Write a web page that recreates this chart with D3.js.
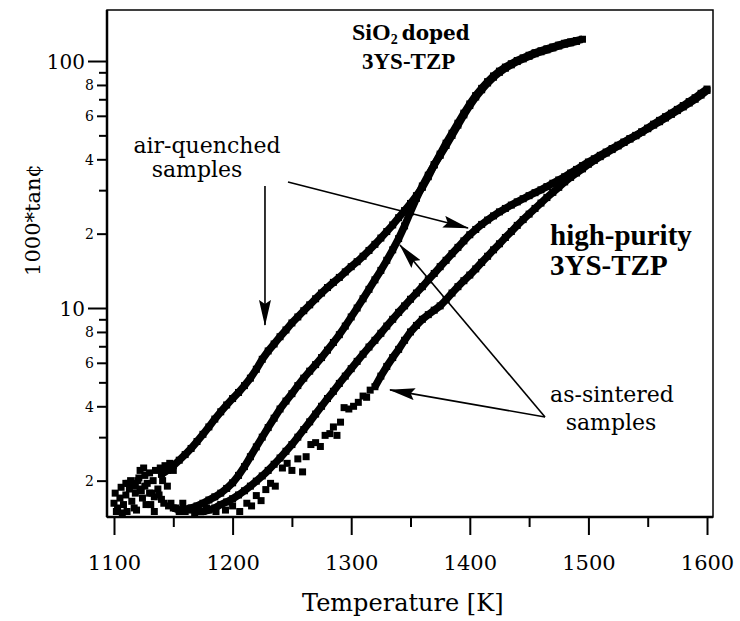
<!DOCTYPE html>
<html><head><meta charset="utf-8">
<script src="https://cdn.jsdelivr.net/npm/d3@7"></script>
<style>body{margin:0;background:#fff}</style>
</head><body>
<svg id="c" width="740" height="621"></svg>
<script>
// ---------- data (temperature K, 1000*tan) ----------
const xMajorTicks = [1100, 1200, 1300, 1400, 1500, 1600];
const xMinorTicks = [1150, 1250, 1350, 1450, 1550];
const yDecadeTicks = [10, 100];
const yLabeledTicks = [2, 4, 6, 8, 20, 40, 60, 80];
const yMinorTicks = [3, 5, 7, 9, 30, 50, 70, 90];

// SiO2 doped, air-quenched
const sio2QuenchedScatter = [[1100,1.62],[1101,1.78],[1102,1.5],[1103,1.55],[1105,1.7],[1106,1.88],[1107,1.48],[1108,1.6],[1110,1.75],[1111,1.5],[1112,1.95],[1113,1.85],[1115,1.65],[1116,1.95],[1117,1.55],[1118,1.78],[1119,1.52],[1120,2.0],[1121,2.05],[1122,2.2],[1123,1.82],[1124,1.7],[1125,2.25],[1126,2.1],[1127,1.6],[1128,1.95],[1130,2.15],[1131,1.6],[1132,1.78],[1133,2.0],[1134,1.5],[1135,2.2],[1137,1.85],[1139,2.25],[1140,1.68],[1141,2.0],[1143,2.3],[1145,1.9],[1147,2.35],[1148,1.62],[1150,2.2],[1152,1.55],[1155,1.5],[1158,1.62],[1163,1.52]];
const sio2Quenched = [[1140,2.12],[1145,2.2],[1150,2.3],[1155,2.42],[1160,2.55],[1165,2.7],[1170,2.88],[1175,3.08],[1180,3.3],[1185,3.55],[1190,3.8],[1195,4.05],[1200,4.3],[1205,4.55],[1210,4.85],[1215,5.2],[1220,5.65],[1225,6.2],[1230,6.7],[1235,7.15],[1240,7.65],[1245,8.15],[1250,8.7],[1255,9.2],[1260,9.75],[1265,10.3],[1270,10.9],[1275,11.5],[1280,12.1],[1285,12.7],[1290,13.3],[1295,14.0],[1300,14.7],[1305,15.4],[1310,16.2],[1315,17.1],[1320,18.1],[1325,19.2],[1330,20.4],[1335,21.7],[1340,23.2],[1345,24.8],[1350,26.5],[1355,28.5],[1360,30.8],[1365,34],[1370,38],[1375,42],[1380,46.5],[1385,51],[1390,56],[1395,61.5],[1400,67],[1405,72.5],[1410,77.5],[1415,82.5],[1420,87],[1425,91],[1430,94.5],[1435,97.5],[1440,100.5],[1445,103],[1450,105.5],[1455,108],[1460,110],[1465,112],[1470,114],[1475,116],[1480,118],[1485,119.5],[1490,121],[1495,122.5]];

// SiO2 doped, as-sintered
const sio2SinteredScatter = [[1110,1.95],[1114,2.0],[1118,1.9],[1122,1.85],[1126,1.9],[1130,1.78],[1134,1.72],[1138,1.75],[1142,1.62],[1146,1.58]];
const sio2Sintered = [[1150,1.55],[1155,1.52],[1160,1.53],[1165,1.55],[1170,1.58],[1175,1.62],[1180,1.67],[1185,1.72],[1190,1.78],[1195,1.86],[1200,1.96],[1205,2.1],[1210,2.28],[1215,2.5],[1220,2.74],[1225,3.0],[1230,3.28],[1235,3.58],[1240,3.9],[1245,4.2],[1250,4.5],[1255,4.85],[1260,5.2],[1265,5.55],[1270,5.9],[1275,6.3],[1280,6.75],[1285,7.25],[1290,7.8],[1295,8.45],[1300,9.2],[1305,10.0],[1310,10.9],[1315,11.9],[1320,13.0],[1325,14.2],[1330,15.6],[1335,17.2],[1340,19.1],[1345,21.5],[1350,24.5],[1355,27.8],[1360,31.2],[1365,34.5],[1370,38],[1375,41.5],[1380,45.5],[1385,50],[1390,55],[1395,60.5],[1400,66],[1405,71.5],[1410,76.5],[1415,81.5],[1420,86],[1425,90],[1430,93.5],[1435,96.5],[1440,99.5],[1445,102],[1450,104.5],[1455,107],[1460,109],[1465,111],[1470,113],[1475,115],[1480,117],[1485,118.5],[1490,120]];

// high-purity, air-quenched
const hpQuenched = [[1170,1.5],[1175,1.5],[1180,1.52],[1185,1.55],[1190,1.6],[1195,1.64],[1200,1.69],[1205,1.75],[1210,1.82],[1215,1.9],[1220,1.99],[1225,2.09],[1230,2.2],[1235,2.33],[1240,2.47],[1245,2.63],[1250,2.8],[1255,3.0],[1260,3.22],[1265,3.46],[1270,3.72],[1275,4.0],[1280,4.3],[1285,4.6],[1290,4.95],[1295,5.3],[1300,5.68],[1305,6.08],[1310,6.5],[1315,6.95],[1320,7.4],[1325,7.9],[1330,8.45],[1335,9.0],[1340,9.6],[1345,10.2],[1350,10.85],[1355,11.5],[1360,12.2],[1365,13.0],[1370,13.8],[1375,14.7],[1380,15.6],[1385,16.6],[1390,17.6],[1395,18.7],[1400,19.8],[1405,20.8],[1410,21.8],[1415,22.7],[1420,23.6],[1425,24.5],[1430,25.3],[1435,26.1],[1440,26.9],[1445,27.7],[1450,28.5],[1455,29.3],[1460,30.1],[1465,31],[1470,32],[1475,33],[1480,34],[1485,35.2],[1490,36.4],[1495,37.7],[1500,39],[1505,40.2],[1510,41.5],[1515,42.8],[1520,44.2],[1525,45.6],[1530,47],[1535,48.5],[1540,50],[1545,51.6],[1550,53.2],[1555,55],[1560,56.8],[1565,58.8],[1570,60.8],[1575,63],[1580,65.2],[1585,67.6],[1590,70],[1595,72.8],[1600,76]];

// high-purity, as-sintered
const hpSinteredScatter = [[1160,1.5],[1168,1.48],[1178,1.55],[1186,1.5],[1194,1.52],[1200,1.58],[1206,1.5],[1212,1.62],[1216,1.58],[1220,1.74],[1224,1.66],[1228,1.84],[1232,1.95],[1236,1.9],[1242,2.25],[1246,2.35],[1250,2.2],[1255,2.45],[1259,2.17],[1262,2.5],[1266,2.8],[1270,2.85],[1274,2.75],[1278,3.05],[1282,3.1],[1285,3.3],[1288,3.05],[1291,3.45],[1294,3.95],[1298,3.9],[1302,4.0],[1306,4.15],[1310,4.4],[1313,4.35],[1316,4.65]];
const hpSintered = [[1320,4.8],[1325,5.3],[1330,5.8],[1335,6.3],[1340,6.8],[1345,7.4],[1350,8.0],[1355,8.5],[1360,9.0],[1365,9.4],[1370,9.8],[1375,10.2],[1380,10.8],[1385,11.5],[1390,12.2],[1395,12.9],[1400,13.6],[1405,14.4],[1410,15.3],[1415,16.2],[1420,17.2],[1425,18.2],[1430,19.3],[1435,20.4],[1440,21.6],[1445,22.8],[1450,24.0],[1455,25.3],[1460,26.6],[1465,28],[1470,29.4],[1475,30.8],[1480,32.4],[1485,33.8],[1490,35.2],[1495,36.6],[1500,38.2],[1505,39.6],[1510,41],[1515,42.4],[1520,43.8],[1525,45.3],[1530,46.8],[1535,48.3],[1540,49.8],[1545,51.6],[1550,53.5],[1555,55.5],[1560,57.5],[1565,59.5],[1570,61.5],[1575,63.7],[1580,66],[1585,68.5],[1590,71],[1595,74],[1600,77]];

// annotation arrows [fromT, fromV, toT, toV]
const arrows = [[1227.3,31.2,1227.3,8.54],[1246.7,32.4,1398.5,21.1],[1463.4,3.62,1332.7,4.66],[1463.4,3.62,1341.1,18.0]];

// ---------- drawing ----------
const svg = d3.select("#c");
const L = 107, R = 713, T = 10, B = 517;
const x = d3.scaleLinear().domain([1094.1, 1605.05]).range([L, R]);
const y = d3.scaleLog().domain([1.425, 160.9]).range([B, T]);
const serif = "'DejaVu Serif', serif";

svg.append("defs").append("marker")
  .attr("id","ah").attr("markerUnits","userSpaceOnUse")
  .attr("markerWidth",26).attr("markerHeight",12)
  .attr("refX",25).attr("refY",6).attr("orient","auto")
  .append("path").attr("d","M0,0 L26,6 L0,12 L4,6 Z").attr("fill","#000");

const plot = svg.append("g");
plot.append("clipPath").attr("id","clip").append("rect")
  .attr("x",L).attr("y",T).attr("width",R-L).attr("height",B-T);
const g = plot.append("g").attr("clip-path","url(#clip)");

const line = d3.line().x(d => x(d[0])).y(d => y(d[1]));
const sq = 7;
function drawLine(data){
  g.append("path").datum(data).attr("d", line)
    .attr("fill","none").attr("stroke","#000").attr("stroke-width",7.5)
    .attr("stroke-linejoin","round");
  drawSquares(data);
}
function drawSquares(data){
  g.append("g").selectAll("rect").data(data).join("rect")
    .attr("x", d => x(d[0]) - sq/2).attr("y", d => y(d[1]) - sq/2)
    .attr("width", sq).attr("height", sq).attr("fill","#000");
}
drawSquares(sio2QuenchedScatter);
drawLine(sio2Quenched);
drawSquares(sio2SinteredScatter);
drawLine(sio2Sintered);
drawLine(hpQuenched);
drawSquares(hpSinteredScatter);
drawLine(hpSintered);

// frame
svg.append("rect").attr("x",L).attr("y",T).attr("width",R-L).attr("height",B-T)
  .attr("fill","none").attr("stroke","#000").attr("stroke-width",1.5);
svg.append("line").attr("x1",L).attr("x2",L).attr("y1",T).attr("y2",B)
  .attr("stroke","#000").attr("stroke-width",2.5);
svg.append("line").attr("x1",L).attr("x2",R).attr("y1",B).attr("y2",B)
  .attr("stroke","#000").attr("stroke-width",2.5);

// x axis
const xa = svg.append("g").attr("transform",`translate(0,${B})`)
  .call(d3.axisBottom(x).tickValues(xMajorTicks).tickSize(18).tickFormat(d3.format("d")));
xa.select(".domain").remove();
xa.selectAll("line").attr("stroke-width",2);
xa.selectAll("text").attr("y",53).attr("dy",0)
  .style("font-family",serif).style("font-size","21px").attr("fill","#000");
const xm = svg.append("g").attr("transform",`translate(0,${B})`)
  .call(d3.axisBottom(x).tickValues(xMinorTicks).tickSize(10).tickFormat(""));
xm.select(".domain").remove();
xm.selectAll("line").attr("stroke-width",2);

// y axis
const yd = svg.append("g").attr("transform",`translate(${L},0)`)
  .call(d3.axisLeft(y).tickValues(yDecadeTicks).tickSize(19).tickPadding(3).tickFormat(d3.format("d")));
yd.select(".domain").remove();
yd.selectAll("line").attr("stroke-width",2);
yd.selectAll("text").attr("dy","0.36em")
  .style("font-family",serif).style("font-size","20px").attr("fill","#000");
const yl = svg.append("g").attr("transform",`translate(${L},0)`)
  .call(d3.axisLeft(y).tickValues(yLabeledTicks).tickSize(10).tickPadding(3)
    .tickFormat(d => String(d).charAt(0)));
yl.select(".domain").remove();
yl.selectAll("line").attr("stroke-width",2);
yl.selectAll("text").attr("dy","0.36em")
  .style("font-family",serif).style("font-size","14px").attr("fill","#000");
const ym = svg.append("g").attr("transform",`translate(${L},0)`)
  .call(d3.axisLeft(y).tickValues(yMinorTicks).tickSize(8).tickFormat(""));
ym.select(".domain").remove();
ym.selectAll("line").attr("stroke-width",2);

// axis titles
svg.append("text").attr("x",302).attr("y",611)
  .style("font-family",serif).style("font-size","24px").text("Temperature [K]");
svg.append("text").attr("transform","translate(40,220) rotate(-90)")
  .attr("text-anchor","middle")
  .style("font-family",serif).style("font-size","21px").text("1000*tan¢");

// arrows
svg.append("g").selectAll("line").data(arrows).join("line")
  .attr("x1", d => x(d[0])).attr("y1", d => y(d[1]))
  .attr("x2", d => x(d[2])).attr("y2", d => y(d[3]))
  .attr("stroke","#000").attr("stroke-width",1.6).attr("marker-end","url(#ah)");

// annotations
function txt(xp, yp, s, size, opts = {}) {
  return svg.append("text").attr("x",xp).attr("y",yp)
    .attr("text-anchor", opts.anchor || "start")
    .style("font-family", opts.family || serif)
    .style("font-size", size + "px")
    .style("font-weight", opts.bold ? "bold" : "normal")
    .text(s);
}
txt(207,153,"air-quenched",22,{anchor:"middle"});
txt(197,177,"samples",22,{anchor:"middle"});
txt(612,402,"as-sintered",22,{anchor:"middle"});
txt(611,430,"samples",22,{anchor:"middle"});
const tb = "'Liberation Serif', 'Times New Roman', serif";
txt(550,245,"high-purity",29,{bold:true,family:tb});
txt(550,275,"3YS-TZP",29,{bold:true,family:tb});
const s1 = svg.append("text").attr("x",352).attr("y",40)
  .style("font-family",tb).style("font-weight","bold");
s1.append("tspan").style("font-size","24px").text("SiO");
s1.append("tspan").style("font-size","14px").attr("dy",4).text("2");
s1.append("tspan").style("font-size","20px").attr("dy",-4).attr("dx",4)
  .style("font-family",serif).text("doped");
txt(362,69,"3YS-TZP",23,{bold:true,family:tb});
</script>
</body></html>
